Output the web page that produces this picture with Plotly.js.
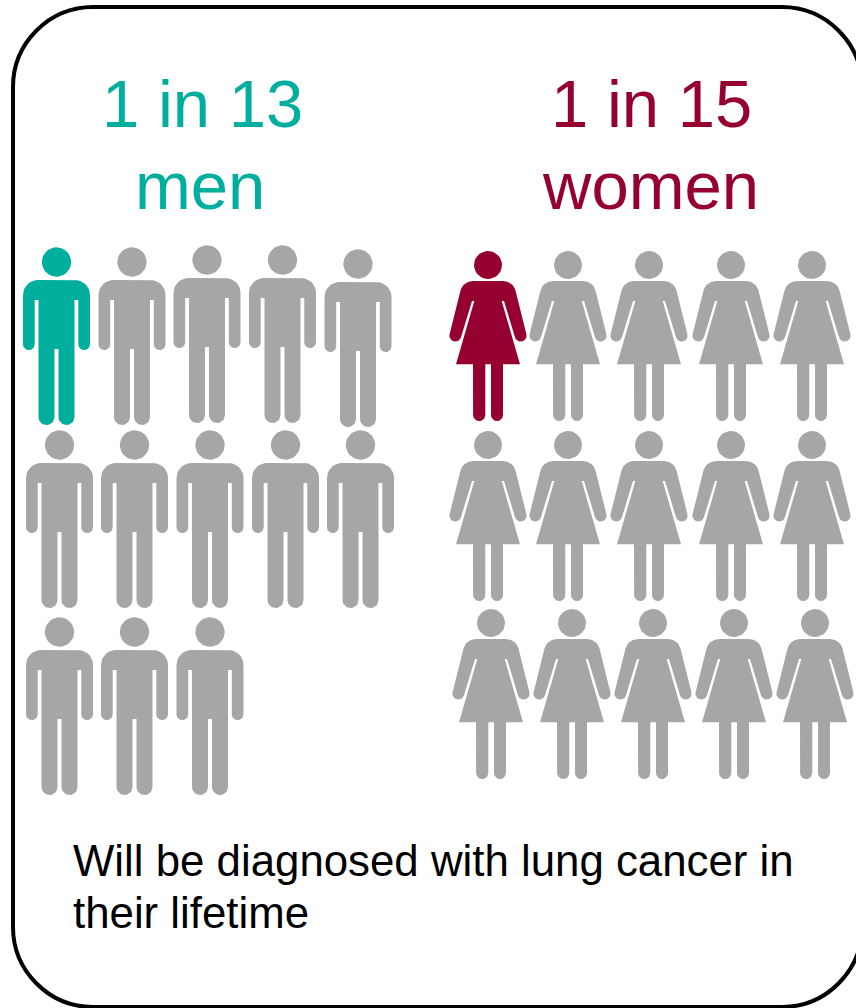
<!DOCTYPE html>
<html>
<head>
<meta charset="utf-8">
<script src="https://cdn.plot.ly/plotly-3.0.1.min.js"></script>
<style>html,body{margin:0;padding:0;background:#fff}#chart{width:856px;height:1008px}</style>
</head>
<body>
<div id="chart"></div>
<script>
// Lifetime risk figures
const menDenominator = 13;
const womenDenominator = 15;
const highlighted = 1;
const menHeadline = ["1 in 13", "men"];
const womenHeadline = ["1 in 15", "women"];
const captionLines = ["Will be diagnosed with lung cancer in", "their lifetime"];

const TEAL = "#00AE9D";
const MAROON = "#960030";
const GRAY = "#A6A6A6";

// Where each figure's head sits on the canvas grid, in reading order
const manSlotX = [56.5, 132, 207, 282.5, 358, 59.5, 134.5, 210, 285.5, 360.5, 59.5, 134.5, 210];
const manSlotY = [262, 262, 260, 260, 264, 445, 445, 445, 445, 445, 632, 632, 632];
const womanSlotX = [488, 568, 649, 731, 812, 488, 568, 649, 731, 812, 491, 572, 653, 734, 815];
const womanSlotY = [265, 265, 265, 265, 265, 445, 445, 445, 445, 445, 623, 623, 623, 623, 623];

function arc(cx, cy, r, fromDeg, toDeg) {
  const pts = [];
  const steps = Math.max(6, Math.ceil(Math.abs(toDeg - fromDeg) / 10));
  for (let i = 0; i <= steps; i++) {
    const a = (fromDeg + (toDeg - fromDeg) * i / steps) * Math.PI / 180;
    pts.push([cx + r * Math.cos(a), cy + r * Math.sin(a)]);
  }
  return pts;
}

// Pictogram outlines relative to the head centre; y grows downward
function manOutline() {
  return [
    ...arc(-18.5, 33, 15, 180, 270),
    ...arc(18.5, 33, 15, 270, 360),
    ...arc(27.65, 82.2, 5.85, 0, 180),
    [21.8, 38], [18, 38],
    ...arc(10, 155, 8, 0, 180),
    [2, 87], [-2, 87],
    ...arc(-10, 155, 8, 0, 180),
    [-18, 38], [-21.8, 38],
    ...arc(-27.65, 82.2, 5.85, 0, 180)
  ];
}

function womanOutline() {
  return [
    ...arc(-15, 29, 13, 198, 270),
    ...arc(15, 29, 13, 270, 342),
    ...arc(32.7, 70.7, 5.9, -15, 165),
    [16, 36], [13.7, 36], [32, 99.3], [15, 99.3],
    ...arc(9, 150, 6, 0, 180),
    [3, 99.3], [-2.7, 99.3],
    ...arc(-8.8, 150, 6.1, 0, 180),
    [-15, 99.3], [-32, 99.3], [-13.7, 36], [-16, 36],
    ...arc(-32.7, 70.7, 5.9, 15, 195)
  ];
}

// One filled trace per colour group, figures separated by gaps
function figures(slotX, slotY, first, last, outline, headR, color, name) {
  const xs = [], ys = [];
  for (let i = first; i < last; i++) {
    const polys = [arc(0, 0, headR, 0, 360), outline];
    polys.forEach(poly => {
      poly.forEach(p => { xs.push(slotX[i] + p[0]); ys.push(slotY[i] + p[1]); });
      xs.push(slotX[i] + poly[0][0]); ys.push(slotY[i] + poly[0][1]);
      xs.push(null); ys.push(null);
    });
  }
  return { type: "scatter", mode: "lines", x: xs, y: ys, fill: "toself", fillcolor: color,
           line: { width: 0, color: color }, hoverinfo: "skip", name: name, connectgaps: false };
}

const traces = [
  figures(manSlotX, manSlotY, 0, highlighted, manOutline(), 14.7, TEAL, "men diagnosed"),
  figures(manSlotX, manSlotY, highlighted, menDenominator, manOutline(), 14.7, GRAY, "men"),
  figures(womanSlotX, womanSlotY, 0, highlighted, womanOutline(), 14, MAROON, "women diagnosed"),
  figures(womanSlotX, womanSlotY, highlighted, womenDenominator, womanOutline(), 14, GRAY, "women")
];

function label(text, x, y, size, color, anchor) {
  return { text: text, x: x, y: y, xref: "x", yref: "y", showarrow: false, xanchor: anchor,
           yanchor: "middle", align: anchor, borderpad: 0,
           font: { family: "Liberation Sans, Arial, sans-serif", size: size, color: color } };
}

const annotations = [
  label(menHeadline[0], 202, 103, 67, TEAL, "center"),
  label(menHeadline[1], 200, 185, 67, TEAL, "center"),
  label(womenHeadline[0], 651, 103, 67, MAROON, "center"),
  label(womenHeadline[1], 650, 185, 67, MAROON, "center"),
  label(captionLines[0], 71.5, 860, 43.8, "#000000", "left"),
  label(captionLines[1], 71.5, 912, 43.8, "#000000", "left")
];

// Rounded panel frame; its right side runs just past the canvas edge
const frame = {
  type: "path", xref: "x", yref: "y", layer: "below",
  path: "M 93 7 L 782 7 C 826 7 862 43 862 87 L 862 927 C 862 971 826 1007 782 1007 L 93 1007 C 49 1007 13 971 13 927 L 13 87 C 13 43 49 7 93 7 Z",
  line: { color: "#000000", width: 4 }, fillcolor: "#FFFFFF"
};

const hiddenAxis = { visible: false, showgrid: false, zeroline: false, fixedrange: true };

Plotly.newPlot("chart", traces, {
  width: 856, height: 1008,
  margin: { l: 0, r: 0, t: 0, b: 0 },
  paper_bgcolor: "#FFFFFF", plot_bgcolor: "#FFFFFF",
  showlegend: false,
  xaxis: Object.assign({ range: [0, 856] }, hiddenAxis),
  yaxis: Object.assign({ range: [1008, 0] }, hiddenAxis),
  shapes: [frame],
  annotations: annotations
}, { displayModeBar: false, staticPlot: true });
</script>
</body>
</html>
